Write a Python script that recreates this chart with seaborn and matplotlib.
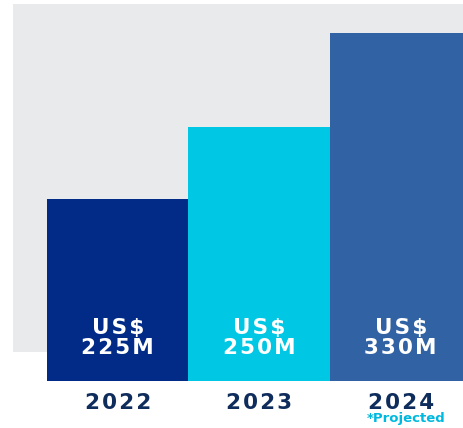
import pandas as pd
import matplotlib.pyplot as plt
import seaborn as sns

years = ["2022", "2023", "2024"]
revenue_labels = ["225M", "250M", "330M"]
# bar heights as drawn in the infographic (not to scale with revenue)
bar_heights = [182, 254, 348]
bar_colors = ["#012b86", "#00c7e3", "#3163a4"]

df = pd.DataFrame({"year": years, "height": bar_heights})


def spaced(s, sep="\u200a"):
    return sep.join(s)


sns.set_style("white")
plt.rcParams["font.family"] = ["DejaVu Sans"]

W, H = 463, 428
fig = plt.figure(figsize=(W / 100, H / 100), dpi=100)

# grey backdrop panel
bg = fig.add_axes([13 / W, (H - 352) / H, 450 / W, 348 / H])
bg.set_facecolor("#e9eaec")
bg.set_xticks([])
bg.set_yticks([])
for s in bg.spines.values():
    s.set_visible(False)

ax = fig.add_axes([0, (H - 381) / H, 1, 381 / H])
ax.patch.set_alpha(0)
sns.barplot(data=df, x="year", y="height", hue="year", palette=bar_colors,
            width=1.0, saturation=1, legend=False, linewidth=0, ax=ax)
ax.set_xlim(-117.75 / 141.5, (W - 117.75) / 141.5)
ax.set_ylim(0, 381)
ax.set_xticks([])
ax.set_yticks([])
ax.set_xlabel("")
ax.set_ylabel("")
sns.despine(ax=ax, left=True, bottom=True)

for i, lab in enumerate(revenue_labels):
    ax.text(i, 47, spaced("US$"), color="white", fontsize=15.5, fontweight="bold",
            ha="center", va="baseline")
    ax.text(i, 27, spaced(lab), color="white", fontsize=15.5, fontweight="bold",
            ha="center", va="baseline")
    ax.text(i, -28, spaced(years[i]), color="#0f2d5c", fontsize=15.5, fontweight="heavy",
            ha="center", va="baseline", clip_on=False)

ax.text(2.04, -41, "*Projected", color="#00b9de", fontsize=9.5, fontweight="bold",
        ha="center", va="baseline", clip_on=False)

fig.savefig("out.png", dpi=100)
